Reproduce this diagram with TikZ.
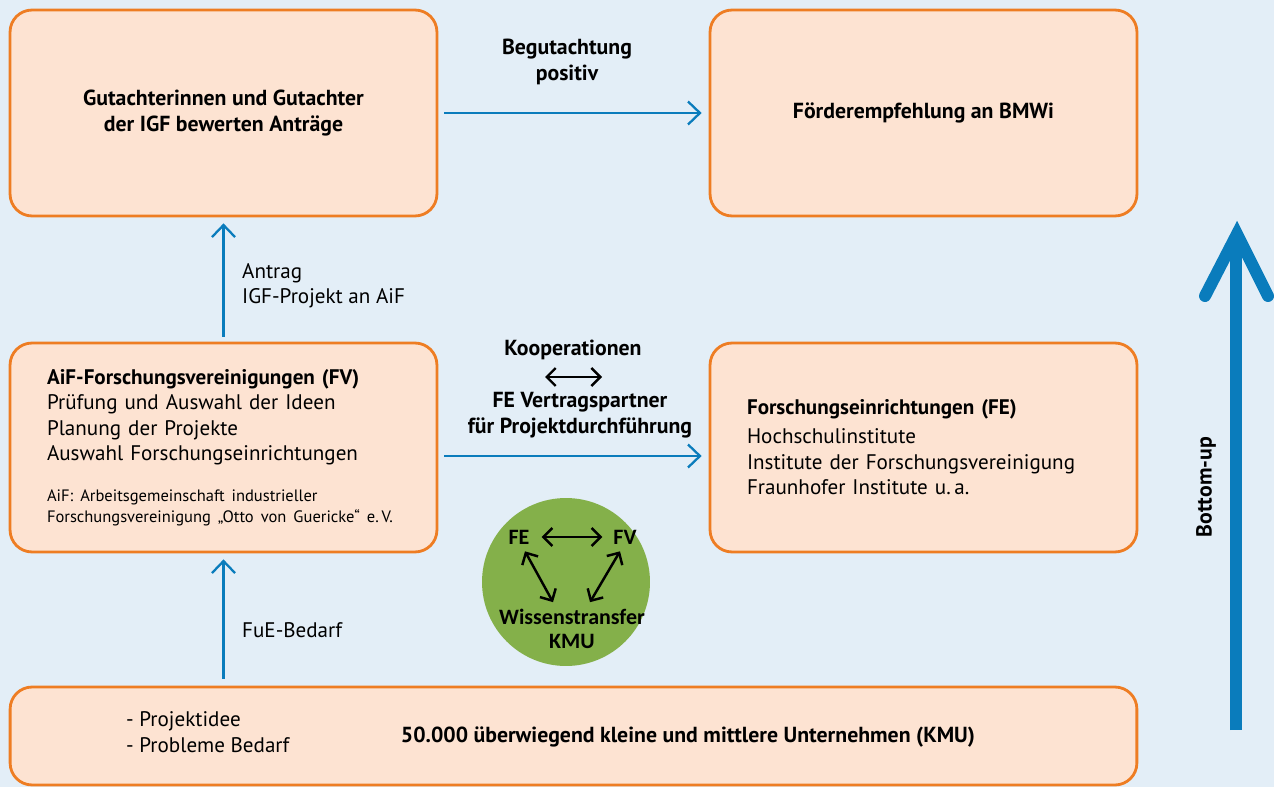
\documentclass[tikz,border=0pt]{standalone}
\usepackage{fontspec}
\setmainfont{PT Sans}
\newfontfamily\circlefont{Carlito}
\usetikzlibrary{arrows.meta,positioning}

\definecolor{bgblue}{HTML}{E3EEF7}
\definecolor{boxfill}{HTML}{FDE3D2}
\definecolor{boxline}{HTML}{EE7D23}
\definecolor{arrowblue}{HTML}{0A7CBC}
\definecolor{kmugreen}{HTML}{84B04A}

\newcommand{\bodyfont}{\fontsize{12}{14.5}\selectfont}
\newcommand{\notefont}{\fontsize{9.4}{11.9}\selectfont}
\newcommand{\headfont}{\fontsize{12.4}{14.9}\selectfont\bfseries}

\tikzstyle{box} = [draw=boxline, line width=1.6pt, fill=boxfill, rounded corners=4.4mm, minimum width=8.54cm, minimum height=4.12cm, inner xsep=0.74cm]
\tikzstyle{line} = [draw=arrowblue, line width=1.3pt, -{Straight Barb[length=2.4mm,width=4.6mm]}]
\tikzstyle{koop} = [draw=black, line width=1.4pt, {Straight Barb[length=1.8mm,width=3.6mm]}-{Straight Barb[length=1.8mm,width=3.6mm]}]
\tikzstyle{bigarrow} = [draw=arrowblue, line width=0.24cm]
\tikzstyle{headtext} = [align=center, font=\headfont]
\tikzstyle{bodytext} = [align=left, anchor=west, font=\bodyfont]
\tikzstyle{circletext} = [align=center, font=\fontsize{12.5}{13.5}\selectfont\circlefont\bfseries]

\begin{document}
\begin{tikzpicture}[x=0.02cm, y=-0.02cm]
% hintergrund
\fill [bgblue] (0,0) rectangle (1274,787);
\useasboundingbox (0,0) rectangle (1274,787);
% obere reihe
\node [box, font=\headfont, align=center] (gutachter) at (223.5,113) {Gutachterinnen und Gutachter\\der IGF bewerten Anträge};
\node [box, font=\headfont, align=center] (foerder) at (923.5,113) {Förderempfehlung an BMWi};
% mittlere reihe
\node [box, minimum height=4.18cm, align=left, text width=7.06cm, font=\bodyfont] (fv) at (223.5,447.5) {\textbf{AiF-Forschungsvereinigungen (FV)}\\Prüfung und Auswahl der Ideen\\Planung der Projekte\\Auswahl Forschungseinrichtungen\par\vspace{11pt}{\notefont AiF: Arbeitsgemeinschaft industrieller\\Forschungsvereinigung „Otto von Guericke“ e.\,V.\par}};
\node [box, minimum height=4.18cm, align=left, text width=7.06cm, font=\bodyfont] (fe) at (923.5,447.5) {\textbf{Forschungseinrichtungen (FE)}\\[2pt]Hochschulinstitute\\Institute der Forschungsvereinigung\\Fraunhofer Institute u.\,a.};
% untere reihe
\node [box, minimum width=22.54cm, minimum height=1.96cm] (kmu) at (573.5,736) {};
\node [headtext] (kmutitel) at (688,737) {50.000 überwiegend kleine und mittlere Unternehmen (KMU)};
\node [bodytext] (ideen) at (120,732) {- Projektidee\\- Probleme Bedarf};
% beschriftungen
\node [headtext] (begutachtung) at (567,62) {Begutachtung\\positiv};
\node [headtext] (kooperation) at (573,350) {Kooperationen};
\node [headtext] (vertrag) at (580,415) {FE Vertragspartner\\für Projektdurchführung};
\node [bodytext] (antrag) at (236,286) {Antrag\\IGF-Projekt an AiF};
\node [bodytext] (bedarf) at (236,630) {FuE-Bedarf};
\coordinate (koopL) at (545,377);
\coordinate (koopR) at (602,377);
% wissenstransfer
\node [circle, fill=kmugreen, minimum size=3.36cm] (kreis) at (566,582) {};
\node [circletext] (fe-c) at (519,537) {FE};
\node [circletext] (fv-c) at (625,537) {FV};
\node [circletext] (transfer) at (572,629) {Wissenstransfer\\KMU};
% bottom-up
\coordinate (bu-start) at (1236,730);
\coordinate (bu-end) at (1236,240);
\coordinate (bu-left) at (1205,296);
\coordinate (bu-tip) at (1237,234);
\coordinate (bu-right) at (1268,296);
\node [headtext, rotate=90] (bottomup) at (1206,487) {Bottom-up};
%arrows
\path [line, shorten <=0.12cm, shorten >=0.14cm] (gutachter.east) -- (foerder.west);
\path [line, shorten <=0.1cm, shorten >=0.12cm] (fv.north) -- (gutachter.south);
\path [line, shorten <=0.14cm, shorten >=0.12cm] (fv.south |- kmu.north) -- (fv.south);
\path [line, shorten <=0.12cm, shorten >=0.14cm] ([yshift=-0.17cm]fv.east) -- ([yshift=-0.17cm]fe.west);
\path [koop] (koopL) -- (koopR);
\path [koop, shorten <=0.12cm, shorten >=0.1cm] (fe-c) -- (fv-c);
\path [koop] ([xshift=0.12cm, yshift=-0.02cm]fe-c.south) -- ([xshift=-0.38cm, yshift=0.02cm]transfer.north);
\path [koop] ([xshift=-0.1cm, yshift=-0.02cm]fv-c.south) -- ([xshift=0.36cm, yshift=0.02cm]transfer.north);
\path [bigarrow] (bu-start) -- (bu-end);
\path [bigarrow, line cap=round, line join=miter] (bu-left) -- (bu-tip) -- (bu-right);
\end{tikzpicture}
\end{document}
